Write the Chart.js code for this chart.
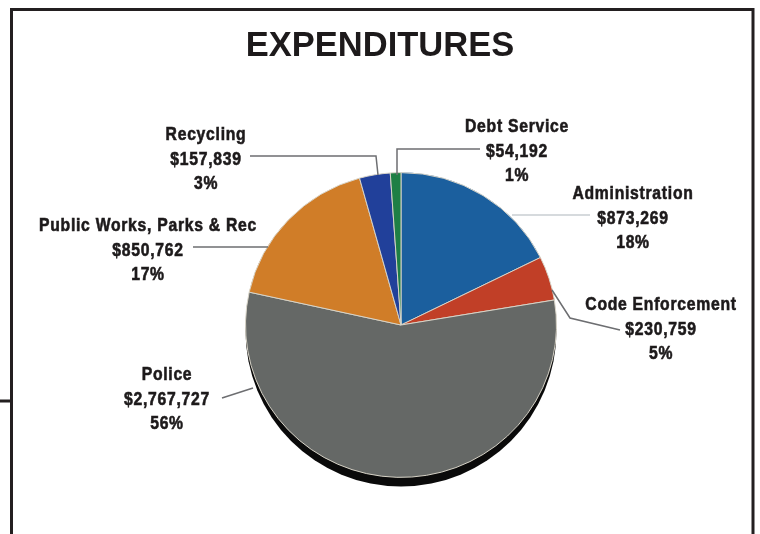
<!DOCTYPE html>
<html>
<head>
<meta charset="utf-8">
<title>Expenditures</title>
<script src="https://cdn.jsdelivr.net/npm/chart.js@4"></script>
<style>
    html, body { margin: 0; padding: 0; background: #fff; }
    #wrap { width: 760px; height: 534px; }
</style>
</head>
<body>
<div id="wrap"><canvas id="pie" width="760" height="534"></canvas></div>
<script>
const chartTitle = 'EXPENDITURES';
const categories = ['Administration', 'Code Enforcement', 'Police', 'Public Works, Parks & Rec', 'Recycling', 'Debt Service'];
const amounts = [873269, 230759, 2767727, 850762, 157839, 54192];
const amountLabels = ['$873,269', '$230,759', '$2,767,727', '$850,762', '$157,839', '$54,192'];
const percentLabels = ['18%', '5%', '56%', '17%', '3%', '1%'];
const sliceColors = ['#1b5f9e', '#c13f27', '#656866', '#d07d28', '#21409a', '#1e7f45'];

// label centre (first line) and leader line for every slice, same order as categories
const labelPos = [[633, 194], [661, 305], [167, 375], [148, 226], [206, 135], [517, 127]];
const leaders = [
    [[590, 215], [512, 215]],
    [[552, 290], [570, 318], [620, 330]],
    [[222, 398], [253, 388]],
    [[193, 247], [268, 247]],
    [[250, 156], [376, 156], [378, 175]],
    [[480, 149], [397, 149], [397, 175]]
];
const lineGap = 24.5;
const labelSqueeze = 0.85; // the labels are set in a narrow face
const pieSqueeze = 0.98;   // the pie is a little flatter than a circle

// frame around the page and the black edge under the pie
const framePlugin = {
    id: 'frame',
    beforeDatasetsDraw(chart) {
        const ctx = chart.ctx;
        const arc = chart.getDatasetMeta(0).data[0];
        ctx.save();
        ctx.strokeStyle = '#231f20';
        ctx.lineWidth = 3;
        ctx.beginPath();
        ctx.moveTo(11.5, 534);
        ctx.lineTo(11.5, 9.5);
        ctx.lineTo(753, 9.5);
        ctx.lineTo(753, 534);
        ctx.moveTo(0, 401);
        ctx.lineTo(11.5, 401);
        ctx.stroke();
        ctx.fillStyle = '#0a0a0a';
        ctx.beginPath();
        ctx.ellipse(arc.x, arc.y + 6, arc.outerRadius, arc.outerRadius, 0, 0, Math.PI * 2);
        ctx.fill();
        ctx.restore();

        // flatten the slices, restored again below
        ctx.save();
        ctx.translate(0, arc.y);
        ctx.scale(1, pieSqueeze);
        ctx.translate(0, -arc.y);
    },
    afterDatasetsDraw(chart) {
        chart.ctx.restore();
    }
};

function drawLabel(ctx, text, x, y) {
    ctx.save();
    ctx.translate(x, y);
    ctx.scale(labelSqueeze, 1);
    ctx.fillText(text, 0, 0);
    ctx.strokeText(text, 0, 0);
    ctx.restore();
}

// title, leader lines and the three line labels
const labelPlugin = {
    id: 'labels',
    afterDatasetsDraw(chart) {
        const ctx = chart.ctx;
        ctx.save();
        ctx.textAlign = 'center';
        ctx.textBaseline = 'middle';
        ctx.fillStyle = '#1d1a1b';
        ctx.font = 'bold 34.5px "Liberation Sans", Arial, sans-serif';
        ctx.fillText(chartTitle, 380, 46);

        leaders.forEach(function (line, i) {
            ctx.strokeStyle = i === 0 ? '#c9ced2' : '#6d6e71';
            ctx.lineWidth = 1.5;
            ctx.beginPath();
            line.forEach(function (p, j) {
                if (j === 0) ctx.moveTo(p[0], p[1]);
                else ctx.lineTo(p[0], p[1]);
            });
            ctx.stroke();
        });

        ctx.font = 'bold 18.5px "Liberation Sans", sans-serif';
        ctx.letterSpacing = '0.85px';
        ctx.strokeStyle = '#1d1a1b';
        ctx.lineWidth = 0.6;
        categories.forEach(function (name, i) {
            const x = labelPos[i][0];
            const y = labelPos[i][1];
            drawLabel(ctx, name, x, y);
            drawLabel(ctx, amountLabels[i], x, y + lineGap);
            drawLabel(ctx, percentLabels[i], x, y + lineGap * 2);
        });
        ctx.restore();
    }
};

new Chart(document.getElementById('pie'), {
    type: 'pie',
    data: {
        labels: categories,
        datasets: [{
            data: amounts,
            backgroundColor: sliceColors,
            borderColor: '#d9d4c8',
            borderWidth: 1
        }]
    },
    options: {
        responsive: false,
        animation: false,
        layout: { padding: { left: 245, right: 203, top: 169, bottom: 53 } },
        plugins: {
            legend: { display: false },
            title: { display: false },
            tooltip: { enabled: false }
        }
    },
    plugins: [framePlugin, labelPlugin]
});
</script>
</body>
</html>
